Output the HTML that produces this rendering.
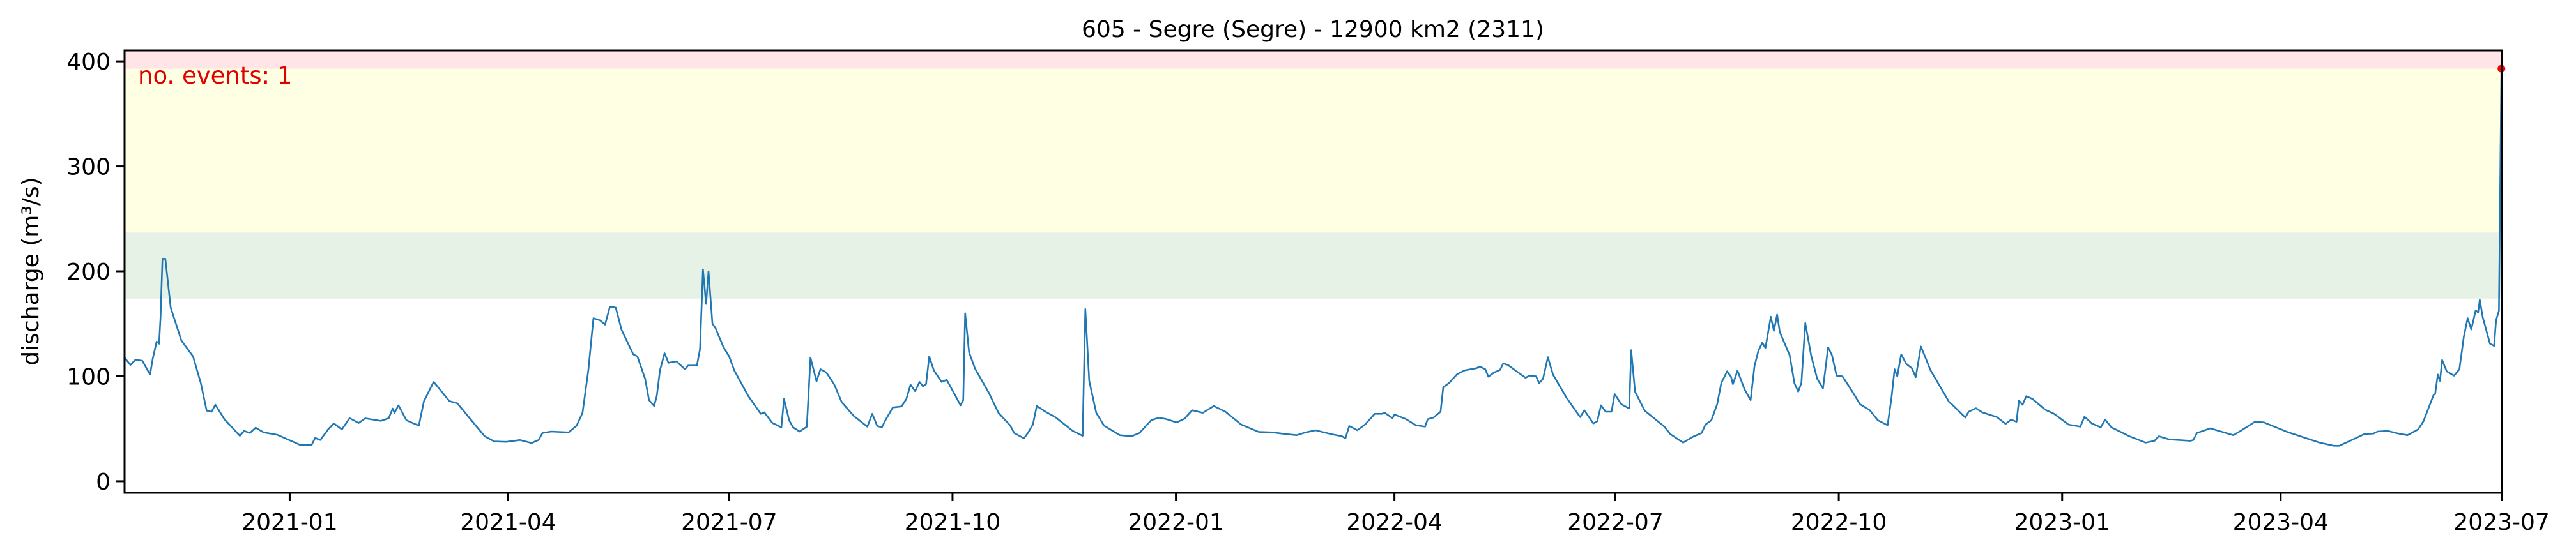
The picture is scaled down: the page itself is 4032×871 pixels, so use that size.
<!DOCTYPE html>
<html><head><meta charset="utf-8"><style>
html,body{margin:0;padding:0;background:#fff;}
svg{display:block;font-family:"DejaVu Sans","Liberation Sans",sans-serif;}
</style></head><body>
<svg id="chart" width="4032" height="871" viewBox="0 0 4032 871" xmlns="http://www.w3.org/2000/svg">
<text x="2055" y="58" font-size="36" text-anchor="middle" fill="#000">605 - Segre (Segre) - 12900 km2 (2311)</text>
<g id="bands"></g>
<g id="series"></g>
<text x="216" y="131" font-size="37" fill="#e00000">no. events: 1</text>
<g id="axes"></g>
<text transform="translate(60,425) rotate(-90)" font-size="36" text-anchor="middle" fill="#000">discharge (m³/s)</text>
</svg>
<script>
const dayOffsets=[0,2.4,4.5,7.3,10.5,11.6,13.2,14.2,14.8,15.6,16.8,19,23.4,28.2,31.4,33.8,35.8,37.4,41.1,47.5,49.2,51.6,54,57.2,62.9,72.5,77,78.5,80.6,83.8,86.2,89.5,92.7,96.4,99.1,105.6,108.8,110.4,111.2,112.8,116.1,121.2,123.3,127.3,133.8,137,141,148.3,152.3,157.2,162.8,167.6,170.5,172.1,175.7,182.9,186.2,188.6,191,193.1,195.8,197.9,199.9,202.3,204.7,209.5,211.2,214.4,216,218.1,219.2,220.5,222.4,224,227.3,230.8,232.1,235.7,237,238.2,239.5,240.5,242.1,243.4,246.6,249,251.1,256.8,262,263.5,266.8,270.5,271.6,273.7,275.3,278,281,282.5,285,286.6,289,292.2,295.4,300.3,305.9,307.9,310,311.9,313.2,316.4,320,322,323.7,325.6,327.4,328.8,330.1,331.4,333.3,336.5,338.6,342.2,344.3,345.4,346.2,347.8,350.2,355.9,359.9,364.8,366.4,370.4,372,374.1,375.7,379.3,383.3,390.5,394.6,395.7,397.3,400.2,403.4,409.9,414.7,418,422.8,426,429.2,433.3,436.5,439.7,444.1,448.6,453.4,459.9,467.1,472.7,478.4,482.7,486.5,490.5,497,501.4,502.8,504.4,507.7,510.9,514.9,517.8,519,522.2,523,527.8,531.8,535.6,536.7,539.1,542,543.1,545.5,548.8,552,556.8,558.1,560.4,561.7,564.1,566.5,567.8,569.7,577,578.6,581.3,582.6,584.2,586.2,588.3,593.9,597.9,599.5,601.2,604.9,606.5,608.1,610,612.4,613.7,616.5,619.7,620.5,622.1,626.1,634.2,636.6,641.9,645.5,649.5,651.1,653.5,655.9,657.6,660,661.6,662.4,664.3,667.2,669.7,671.3,672.9,674.5,675.8,678,679.3,680.6,681.7,685.8,687.7,689.3,690.6,692.2,694.6,697.1,699.5,701.6,703.2,705.1,707.5,711.6,714.8,718.8,722.1,726.1,727.7,729,730.1,731.7,733.8,736.1,737.7,739.8,743.8,751.5,752.6,758.1,759.5,762.5,765.1,771.1,774.7,777,779.2,780.2,781.7,783.2,785.8,791,794.7,800.6,805.5,807.2,810.2,813.9,815.7,818.3,825.7,832.4,836,837.8,842,850.8,852,853.5,859,868.5,871.5,877.4,881.1,890.7,904,909.9,912.1,917.3,922.5,926.2,927.9,932.1,936.5,940.2,944.6,946.8,949.5,951,951.6,952.7,953.6,954.5,956.4,959.4,961.6,963.4,965,966.5,968.3,969.3,970,971.2,974.2,975.9,976.7,977.9,978.9];
const discharge=[117.8,110.8,115.8,114.8,101.6,116.8,133,131,155.3,212,212,165.4,134,118.9,93.5,67.2,66.2,72.9,59.1,43.3,48,46,51,46.6,44.3,34.4,34.4,41.3,39.3,49.4,55.1,49.4,60.1,55.5,59.9,57.5,60.1,69.2,65.2,72.3,58.1,53,76.3,94.6,76.3,74.3,63.2,42.9,37.9,37.5,39.3,36.4,39.3,46,47.4,46.6,53,65.2,105.7,155.3,153.3,149.2,166.4,165.4,144.2,120.9,118.9,97.6,77.3,71.7,81.4,105.7,121.9,112.8,114.2,106.7,110.2,110.2,125.9,201.9,168.9,199.9,150.2,145.8,128,118.9,105.7,81.4,64.2,65.6,55.5,51.4,78.4,58.1,51.4,47.4,52,117.8,95.2,106.7,103.7,92.5,75.3,62.2,52,64.2,52.6,51.4,57.5,70.3,71.3,78.4,91.9,85.8,94.6,90.5,92.5,118.9,105.7,94.6,96.6,81.4,72.3,77.3,160,122.9,107.7,84.4,65.2,53,45.9,40.9,45.9,54,71.7,66.2,61.1,48,43.3,164,95.6,65.2,53,43.9,42.9,46,58.1,60.5,59.1,56.1,59.5,67.6,65.2,71.7,66.2,54,47,46.6,44.9,43.9,46.6,48.6,44.9,42.9,40.9,52.6,48.6,54,64.2,64.2,65.2,60.1,63.6,59.1,53.4,52,59.1,60.7,66.2,89.5,93.5,102,105.7,107.7,109.3,106.7,99.6,103.7,106.1,112.2,110.8,98.6,100.6,100,93.5,97.6,118.2,101.6,79.4,66.2,61.1,67.6,55.1,57.1,72.3,66.2,66.2,83,73.3,69.3,124.9,85.4,67.2,52,44.9,36.8,41.9,46,54,58.1,73.3,93.5,104.7,99.6,92.5,105.3,87.5,77.3,109.8,124.3,132,126.9,156.7,143.2,158.8,142.1,119.9,93.5,85.4,93.5,150.7,119.9,97.6,88.5,127.6,119.9,100.6,100,85.4,73.3,67.6,58.1,53.4,79.4,106.7,100,120.9,111.8,107.7,99.2,128.4,105.7,75.3,73.3,60.7,66.2,69.6,65.6,61.1,54.7,58.7,56.7,76.9,72.9,81,78.4,68.2,64.2,54,52,61.5,55.1,51.4,58.7,51.4,42.9,36.8,38.5,42.9,39.9,38.5,39.3,46,50.4,43.9,48,56.7,56.1,47,36.8,33.8,33.8,39.3,45,45.4,47.4,48,45.4,43.9,49.4,57.1,73.3,82.4,83,101.6,95.6,115.4,104.7,100.6,106.7,137.1,155.3,144.6,162.8,160.8,172.9,156.3,131,129,153.3,162.4,393];
const eventDays=[978.9];
const eventValues=[393];
const bandLows=[174,237,393];
const bandHighs=[237,393,410];
const bandColors=['#e5f2e5','#ffffe4','#ffe5e5'];
const yTicks=[0,100,200,300,400];
const xTickLabels=['2021-01','2021-04','2021-07','2021-10','2022-01','2022-04','2022-07','2022-10','2023-01','2023-04','2023-07'];

const NS='http://www.w3.org/2000/svg';
const L=195,R=3916,T=79,B=772;
const startMs=Date.UTC(2020,9,25);
const xMax=979.1, yMin=-11, yMax=410.4;
function xs(d){return L+(d/xMax)*(R-L);}
function ys(v){return B-(v-yMin)/(yMax-yMin)*(B-T);}
function mk(tag,attrs,parent){const e=document.createElementNS(NS,tag);for(const k in attrs)e.setAttribute(k,attrs[k]);parent.appendChild(e);return e;}

const bands=document.getElementById('bands');
for(let i=0;i<bandLows.length;i++){
  const r=mk('rect',{x:L,y:ys(bandHighs[i]),width:R-L,height:ys(bandLows[i])-ys(bandHighs[i]),fill:bandColors[i]},bands);
  
  
}
const series=document.getElementById('series');
let d='';
for(let i=0;i<dayOffsets.length;i++){d+=(i?'L':'M')+xs(dayOffsets[i]).toFixed(1)+' '+ys(discharge[i]).toFixed(1);}
const p=mk('path',{d:d,fill:'none',stroke:'#1f77b4','stroke-width':2.6,'stroke-linejoin':'round'},series);


for(let i=0;i<eventDays.length;i++){
  const c=mk('circle',{cx:xs(eventDays[i]),cy:ys(eventValues[i]),r:6,fill:'#ff0000'},series);
  
  
}
const axes=document.getElementById('axes');
const frame=mk('rect',{x:L,y:T,width:R-L,height:B-T,fill:'none',stroke:'#000','stroke-width':3},axes);


for(const v of yTicks){
  const y=ys(v);
  const t=mk('line',{x1:L-13,x2:L,y1:y,y2:y,stroke:'#000','stroke-width':3},axes);
  
  
  const tx=mk('text',{x:L-22,y:y+13,'font-size':36,'text-anchor':'end',fill:'#000'},axes);
  tx.textContent=String(v);
  
  
}
for(const lab of xTickLabels){
  const [yy,mm]=lab.split('-').map(Number);
  const day=(Date.UTC(yy,mm-1,1)-startMs)/86400000;
  const x=xs(day);
  const t=mk('line',{x1:x,x2:x,y1:B,y2:B+13,stroke:'#000','stroke-width':3},axes);
  
  
  const tx=mk('text',{x:x,y:B+58,'font-size':36,'text-anchor':'middle',fill:'#000'},axes);
  tx.textContent=lab;
  
  
}
</script>
</body></html>
